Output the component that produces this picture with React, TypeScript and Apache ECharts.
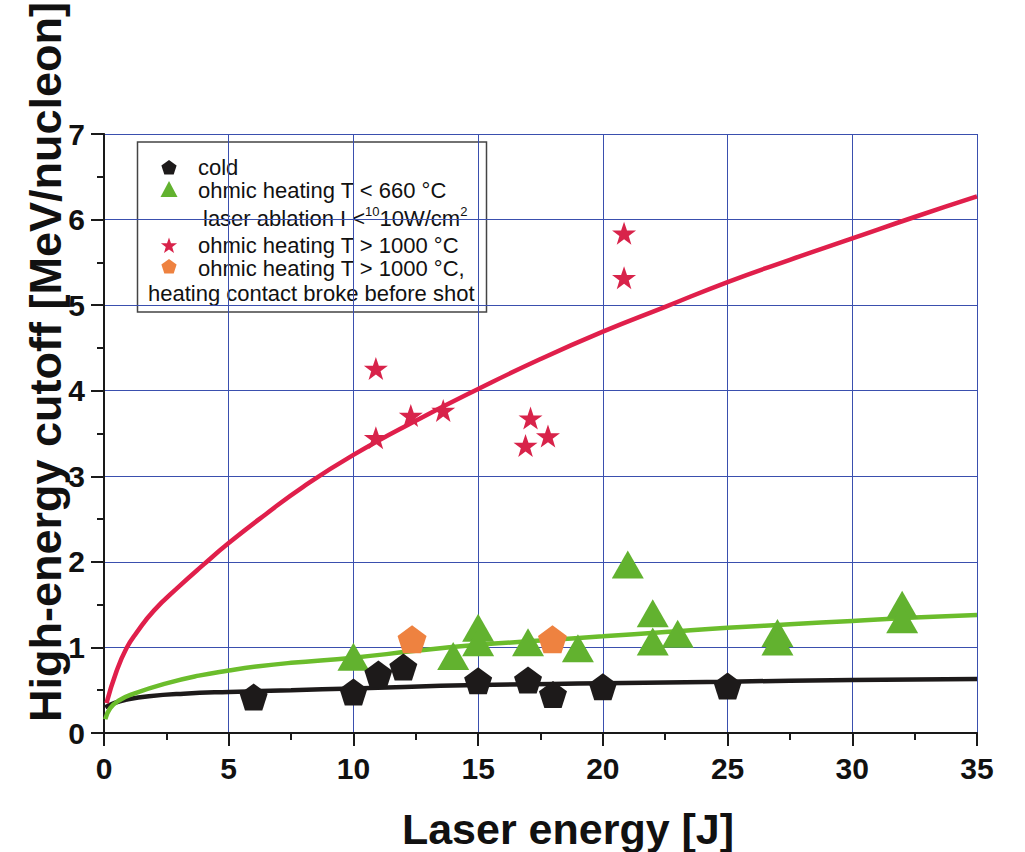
import React, { useEffect, useRef } from "react";
import * as echarts from "echarts";

// Measured shots: laser energy [J] vs high-energy cutoff [MeV/nucleon]
const coldX = [6, 10, 11, 12, 15, 17, 18, 20, 25];
const coldY = [0.42, 0.48, 0.69, 0.77, 0.61, 0.62, 0.45, 0.54, 0.55];

const ohmicLowX = [10, 14, 15, 15, 17, 19, 21, 22, 22, 23, 27, 27, 32, 32];
const ohmicLowY = [0.89, 0.9, 1.23, 1.06, 1.06, 0.99, 1.97, 1.4, 1.07, 1.16, 1.17, 1.07, 1.5, 1.33];

const ohmicHighX = [10.9, 10.9, 12.3, 13.6, 17.1, 16.9, 17.8, 20.85, 20.85];
const ohmicHighY = [4.26, 3.45, 3.71, 3.77, 3.68, 3.36, 3.47, 5.84, 5.32];

const brokeX = [12.35, 17.98];
const brokeY = [1.095, 1.095];

// Fitted trend curves
const redFitX = [0.1, 0.5, 0.9, 1.3, 2, 3, 4, 5, 6.5, 8, 10, 12.5, 15, 17.5, 20, 22.5, 25, 27.5, 30, 32.5, 35];
const redFitY = [0.35, 0.72, 0.99, 1.17, 1.43, 1.71, 1.97, 2.22, 2.56, 2.88, 3.25, 3.65, 4.02, 4.37, 4.69, 4.98, 5.27, 5.53, 5.78, 6.03, 6.27];

const greenFitX = [0.05, 0.25, 0.6, 1.2, 2.5, 3.8, 5, 6.2, 7.5, 10, 12.5, 15, 17.5, 20, 22.5, 25, 27.5, 30, 32.5, 35];
const greenFitY = [0.16, 0.29, 0.38, 0.46, 0.58, 0.67, 0.73, 0.78, 0.82, 0.88, 0.96, 1.03, 1.08, 1.13, 1.18, 1.23, 1.27, 1.31, 1.35, 1.38];

const blackFitX = [0.05, 0.4, 0.9, 1.8, 3.2, 5, 7.5, 10, 15, 20, 25, 30, 35];
const blackFitY = [0.3, 0.35, 0.39, 0.43, 0.46, 0.48, 0.5, 0.52, 0.56, 0.58, 0.6, 0.62, 0.63];

const xTicks = { min: 0, max: 35, interval: 5 };
const yTicks = { min: 0, max: 7, interval: 1 };

const BLACK = "#1d1a1a";
const GREEN = "#62b22f";
const RED = "#d8234a";
const ORANGE = "#ee8240";
const GRID_BLUE = "#3a4fae";
const AXIS = "#1a1a1a";
const FONT = "'Liberation Sans', Arial, Helvetica, sans-serif";

const PENTAGON = "path://M50,0L97.55,34.55L79.39,90.45L20.61,90.45L2.45,34.55Z";
const STAR =
  "path://M50,0L61.8,35.1L98.1,35.1L68.8,56.8L79.4,91.9L50,70.2L20.6,91.9L31.2,56.8L1.9,35.1L38.2,35.1Z";

const zip = (xs: number[], ys: number[]) => xs.map((x, i) => [x, ys[i]]);

// Legend icon outlines
function polygonPoints(cx: number, cy: number, r: number, n: number, inner?: number) {
  const pts: number[][] = [];
  const count = inner ? n * 2 : n;
  for (let i = 0; i < count; i++) {
    const a = -Math.PI / 2 + (i * 2 * Math.PI) / count;
    const rr = inner && i % 2 === 1 ? inner : r;
    pts.push([cx + rr * Math.cos(a), cy + rr * Math.sin(a)]);
  }
  return pts;
}

const legendFont = `22px ${FONT}`;

export default function App() {
  const ref = useRef<HTMLDivElement>(null);

  useEffect(() => {
    if (!ref.current) return;
    const chart = echarts.init(ref.current, undefined, { renderer: "svg" });

    const lineSeries = (data: number[][], color: string, z: number) => ({
      type: "line",
      data,
      smooth: 0.5,
      showSymbol: false,
      symbol: "none",
      lineStyle: { color, width: 4.5 },
      z,
      silent: true,
    });

    const frameAxis = {
      type: "value",
      axisLine: { show: true, lineStyle: { color: AXIS, width: 1.5 } },
      axisTick: { show: false },
      axisLabel: { show: false },
      splitLine: { show: false },
    };

    chart.setOption({
      animation: false,
      backgroundColor: "#ffffff",
      textStyle: { fontFamily: FONT },
      grid: {
        left: 104,
        right: 48,
        top: 134,
        bottom: 119,
      },
      xAxis: [
        {
          type: "value",
          min: xTicks.min,
          max: xTicks.max,
          interval: xTicks.interval,
          axisLine: { show: true, onZero: false, lineStyle: { color: AXIS, width: 2 } },
          axisTick: { show: true, inside: false, length: 13, lineStyle: { color: AXIS, width: 2 } },
          minorTick: { show: true, splitNumber: 2, length: 7, lineStyle: { color: AXIS, width: 2 } },
          splitLine: { show: true, lineStyle: { color: GRID_BLUE, width: 1 } },
          axisLabel: { fontSize: 30, fontWeight: "bold", color: "#111", margin: 20, fontFamily: FONT },
        },
        { ...frameAxis, position: "top", min: xTicks.min, max: xTicks.max },
      ],
      yAxis: [
        {
          type: "value",
          min: yTicks.min,
          max: yTicks.max,
          interval: yTicks.interval,
          axisLine: { show: true, onZero: false, lineStyle: { color: AXIS, width: 2 } },
          axisTick: { show: true, inside: false, length: 13, lineStyle: { color: AXIS, width: 2 } },
          minorTick: { show: true, splitNumber: 2, length: 7, lineStyle: { color: AXIS, width: 2 } },
          splitLine: { show: true, lineStyle: { color: GRID_BLUE, width: 1 } },
          axisLabel: { fontSize: 30, fontWeight: "bold", color: "#111", margin: 19, fontFamily: FONT },
        },
        { ...frameAxis, position: "right", min: yTicks.min, max: yTicks.max },
      ],
      series: [
        lineSeries(zip(blackFitX, blackFitY), BLACK, 2),
        lineSeries(zip(greenFitX, greenFitY), "#6bbd2c", 2),
        lineSeries(zip(redFitX, redFitY), "#e01f4b", 2),
        {
          name: "ohmic heating T < 660 °C",
          type: "scatter",
          data: zip(ohmicLowX, ohmicLowY),
          symbol: "triangle",
          symbolSize: [32, 28],
          itemStyle: { color: GREEN, opacity: 1 },
          z: 3,
        },
        {
          name: "cold",
          type: "scatter",
          data: zip(coldX, coldY),
          symbol: PENTAGON,
          symbolSize: [28, 27],
          itemStyle: { color: BLACK, opacity: 1 },
          z: 4,
        },
        {
          name: "ohmic heating T > 1000 °C, heating contact broke before shot",
          type: "scatter",
          data: zip(brokeX, brokeY),
          symbol: PENTAGON,
          symbolSize: [29, 28],
          itemStyle: { color: ORANGE, opacity: 1 },
          z: 5,
        },
        {
          name: "ohmic heating T > 1000 °C",
          type: "scatter",
          data: zip(ohmicHighX, ohmicHighY),
          symbol: STAR,
          symbolSize: [24, 23],
          itemStyle: { color: RED, opacity: 1 },
          z: 5,
        },
      ],
      graphic: [
        {
          type: "text",
          x: 45,
          y: 362,
          rotation: Math.PI / 2,
          style: {
            text: "High-energy cutoff [MeV/nucleon]",
            font: `bold 45px ${FONT}`,
            fill: "#111",
            textAlign: "center",
            textVerticalAlign: "middle",
          },
        },
        {
          type: "text",
          x: 568,
          y: 829,
          style: {
            text: "Laser energy [J]",
            font: `bold 43px ${FONT}`,
            fill: "#111",
            textAlign: "center",
            textVerticalAlign: "middle",
          },
        },
        {
          type: "group",
          z: 100,
          children: [
            {
              type: "rect",
              shape: { x: 137.5, y: 142, width: 349, height: 170 },
              style: { fill: "#ffffff", stroke: "#444", lineWidth: 1.5 },
            },
            {
              type: "polygon",
              shape: { points: polygonPoints(169, 168, 8, 5) },
              style: { fill: BLACK },
            },
            {
              type: "polygon",
              shape: { points: [[169, 181], [177.5, 197], [160.5, 197]] },
              style: { fill: GREEN },
            },
            {
              type: "polygon",
              shape: { points: polygonPoints(169, 246, 8.5, 5, 3.4) },
              style: { fill: RED },
            },
            {
              type: "polygon",
              shape: { points: polygonPoints(169, 267, 8, 5) },
              style: { fill: ORANGE },
            },
            {
              type: "text",
              x: 198,
              y: 167,
              style: { text: "cold", font: legendFont, fill: "#111", textVerticalAlign: "middle" },
            },
            {
              type: "text",
              x: 198,
              y: 190,
              style: {
                text: "ohmic heating T < 660 °C",
                font: legendFont,
                fill: "#111",
                textVerticalAlign: "middle",
              },
            },
            {
              // intensity limit: 10^10 W/cm^2, with the exponents set as superscripts
              type: "text",
              x: 203,
              y: 218,
              style: {
                text: "laser ablation I <{sup|10}{base|10W/cm}{sup|2}",
                font: legendFont,
                fill: "#111",
                textVerticalAlign: "middle",
                rich: {
                  base: { fontSize: 22, fontFamily: FONT, lineHeight: 26, fill: "#111" },
                  sup: {
                    fontSize: 13,
                    fontFamily: FONT,
                    verticalAlign: "top",
                    lineHeight: 26,
                    fill: "#111",
                  },
                },
              },
            },
            {
              type: "text",
              x: 198,
              y: 245,
              style: {
                text: "ohmic heating T > 1000 °C",
                font: legendFont,
                fill: "#111",
                textVerticalAlign: "middle",
              },
            },
            {
              type: "text",
              x: 198,
              y: 268,
              style: {
                text: "ohmic heating T > 1000 °C,",
                font: legendFont,
                fill: "#111",
                textVerticalAlign: "middle",
              },
            },
            {
              type: "text",
              x: 148,
              y: 293,
              style: {
                text: "heating contact broke before shot",
                font: legendFont,
                fill: "#111",
                textVerticalAlign: "middle",
              },
            },
          ],
        },
      ],
    });

    return () => chart.dispose();
  }, []);

  return (
    <div
      ref={ref}
      style={{ position: "absolute", left: 0, top: 0, width: 1025, height: 852, background: "#fff" }}
    />
  );
}
